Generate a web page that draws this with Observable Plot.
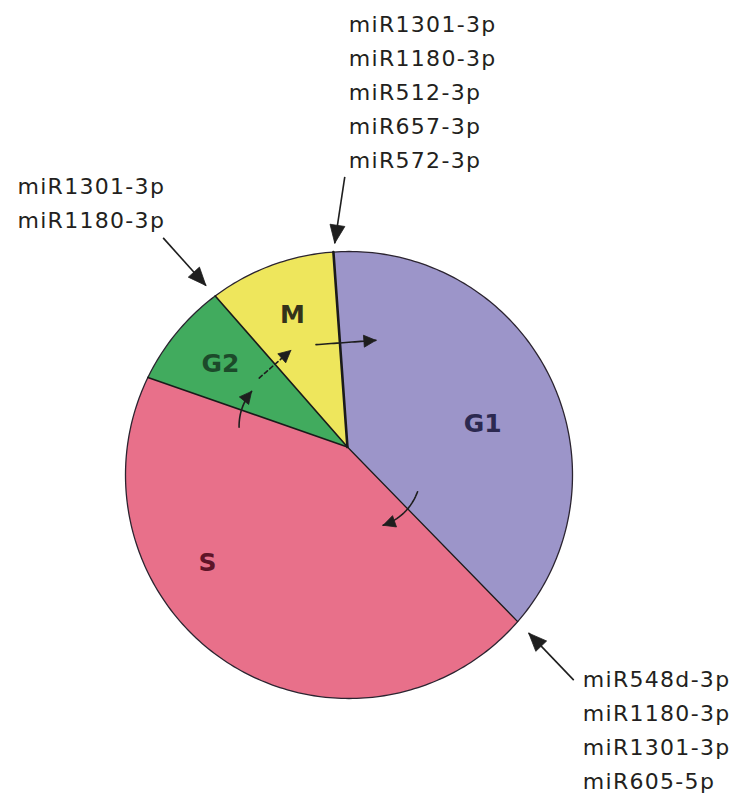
<!DOCTYPE html>
<html>
<head>
<meta charset="utf-8">
<script src="https://cdn.jsdelivr.net/npm/d3@7"></script>
<script src="https://cdn.jsdelivr.net/npm/@observablehq/plot@0.6"></script>
<style>
  html, body { margin: 0; padding: 0; background: #fff; }
  #chart svg { display: block; }
</style>
</head>
<body>
<div id="chart"></div>
<script>
// ---------------- data ----------------
const phases = ["G1", "S", "G2", "M"];
const phaseShares = [37.5, 45.8, 7.6, 9.1];          // % of the circle
const firstBoundary = 356;                           // deg clockwise from 12 o'clock: M ends, G1 begins
const phaseColors = ["#9c95c9", "#e8708a", "#41ab5e", "#eee65c"];
const labelInk = ["#2c2950", "#5e1428", "#1c4a2a", "#34321a"];

// miRNAs annotated at the transitions (boundary = start of the "to" phase)
const transitionTo = ["G1", "M", "S"];
const mirMtoG1 = ["miR1301-3p", "miR1180-3p", "miR512-3p", "miR657-3p", "miR572-3p"];
const mirG2toM = ["miR1301-3p", "miR1180-3p"];
const mirG1toS = ["miR548d-3p", "miR1180-3p", "miR1301-3p", "miR605-5p"];
const mirLists = [mirMtoG1, mirG2toM, mirG1toS];

// direction of the cycle (small arrows crossing the boundaries)
const cycleFrom = ["S", "G2", "M", "G1"];
const cycleTo   = ["G2", "M", "G1", "S"];

// ---------------- layout ----------------
const W = 733, H = 798;
const R = 223.5;                       // radius in px
const center = {x: 348.5, y: 474.5};   // px
const apex = [-0.007, 0.125];          // slices meet here (circle units, y up)
const font = "DejaVu Sans";
const ink = "#1e1e1e";
const letterSpacing = "1.3px";

const labelPos = {G1: [69.3, 0.64], S: [238.2, 0.745], G2: [310.8, 0.76], M: [340.5, 0.759]};
const noteLayout = [
  {heading: 188.6, gap: 9,  len: 67, dx: 4, dy: -9,   textAnchor: "start", lineAnchor: "bottom"},
  {heading: 138.1, gap: 14, len: 64, dx: 2, dy: -9.5, textAnchor: "end",   lineAnchor: "bottom"},
  {heading: 316.2, gap: 16, len: 65, dx: 9, dy: -17,  textAnchor: "start", lineAnchor: "top"}
];
const cycleLayout = [
  {t: 0.515, len: 38, shift: 2, bend: 20},
  {t: 0.548, len: 42, shift: 0, bend: 0, dash: "4,3"},
  {t: 0.534, len: 60, shift: 6, bend: 0},
  {t: 0.332, len: 48, shift: 5, bend: 25}
];
const fontSize = 22, lineGap = 34;

// ---------------- geometry helpers ----------------
const rad = d => d * Math.PI / 180;
const dir = a => [Math.sin(rad(a)), Math.cos(rad(a))];
const pt = (a, r = 1) => [r * Math.sin(rad(a)), r * Math.cos(rad(a))];
const add = (p, v, s = 1) => [p[0] + v[0] * s, p[1] + v[1] * s];
const u = v => v / R;   // px -> circle units

const starts = [];
{ let acc = firstBoundary; phaseShares.forEach(s => { starts.push(acc); acc += s * 3.6; }); }
const startOf = name => starts[phases.indexOf(name)];

// slices
const slicePts = [];
phases.forEach((p, i) => {
  const a0 = starts[i], a1 = a0 + phaseShares[i] * 3.6;
  slicePts.push({phase: p, x: apex[0], y: apex[1]});
  const n = Math.ceil((a1 - a0) / 0.5);
  for (let k = 0; k <= n; k++) {
    const [x, y] = pt(a0 + (a1 - a0) * k / n);
    slicePts.push({phase: p, x, y});
  }
  slicePts.push({phase: p, x: apex[0], y: apex[1]});
});

const circlePts = d3.range(0, 361).map(a => { const [x, y] = pt(a); return {x, y}; });

const borders = phases.map((p, i) => {
  const [x2, y2] = pt(starts[i]);
  return {x1: apex[0], y1: apex[1], x2, y2, w: p === "G1" ? 2.6 : (p === "S" ? 1.3 : 1.6)};
});

// arrow heads
const heads = [];
function addHead(id, tip, e, hl, hw) {
  const base = add(tip, e, -u(hl));
  const perp = [e[1], -e[0]];
  const l = add(base, perp, u(hw)), r = add(base, perp, -u(hw));
  [tip, l, r, tip].forEach(([x, y]) => heads.push({id, x, y}));
}

// outer annotation arrows + texts
const noteShafts = [];
const noteTexts = [];
transitionTo.forEach((ph, i) => {
  const L = noteLayout[i];
  const B = pt(startOf(ph));
  const e = dir(L.heading);
  const tip = add(B, e, -u(L.gap));
  const tail = add(tip, e, -u(L.len));
  noteShafts.push({x1: tail[0], y1: tail[1], x2: tip[0], y2: tip[1]});
  addHead("n" + i, tip, e, 18, 7.5);
  noteTexts.push({x: tail[0], y: tail[1], text: mirLists[i].join("\n"), L});
});

// inner cycle arrows
const cycleShafts = [];
cycleTo.forEach((to, i) => {
  const L = cycleLayout[i];
  const B = pt(startOf(to));
  const h = Math.atan2(B[0] - apex[0], B[1] - apex[1]) * 180 / Math.PI;
  const c = h + 90;
  const e = dir(c);
  const cross = [apex[0] + L.t * (B[0] - apex[0]), apex[1] + L.t * (B[1] - apex[1])];
  const mid = add(cross, e, u(L.shift));
  const tail = add(mid, e, -u(L.len / 2));
  const tip = add(mid, e, u(L.len / 2));
  const P = add(tail, dir(c - L.bend), u(L.len / 2) / Math.cos(rad(L.bend)));
  const pts = d3.range(0, 21).map(k => {
    const s = k / 20, a = (1 - s) * (1 - s), b = 2 * s * (1 - s), d = s * s;
    return {id: "c" + i, x: a * tail[0] + b * P[0] + d * tip[0], y: a * tail[1] + b * P[1] + d * tip[1]};
  });
  cycleShafts.push(pts);
  let et = [tip[0] - P[0], tip[1] - P[1]];
  const m = Math.hypot(et[0], et[1]); et = [et[0] / m, et[1] / m];
  addHead("c" + i, tip, et, 12, 6);
});

const labels = phases.map((p, i) => {
  const [a, r] = labelPos[p];
  const [x, y] = pt(a, r);
  return {x, y, text: p, ink: labelInk[i]};
});

// ---------------- plot ----------------
const marks = [
  Plot.line(slicePts, {x: "x", y: "y", z: "phase", fill: "phase", stroke: "none"}),
  Plot.line(circlePts, {x: "x", y: "y", stroke: "#2b2430", strokeWidth: 1.3}),
  Plot.link(borders, {x1: "x1", y1: "y1", x2: "x2", y2: "y2", stroke: "#1a1a1a", strokeWidth: "w", strokeLinecap: "round"}),
  ...cycleShafts.map((pts, i) => Plot.line(pts, {x: "x", y: "y", stroke: ink, strokeWidth: 1.6,
      strokeDasharray: cycleLayout[i].dash || null})),
  Plot.link(noteShafts, {x1: "x1", y1: "y1", x2: "x2", y2: "y2", stroke: ink, strokeWidth: 1.6}),
  Plot.line(heads, {x: "x", y: "y", z: "id", fill: ink, stroke: ink, strokeWidth: 0.8, strokeLinejoin: "miter"}),
  Plot.text(labels, {x: "x", y: "y", text: "text", fill: "ink", fontFamily: font, fontWeight: "bold",
      fontSize: 25, textAnchor: "middle", lineAnchor: "middle"}),
  ...noteTexts.map(d => Plot.text([d], {x: "x", y: "y", text: "text",
      fontFamily: font, fontSize, lineHeight: lineGap / fontSize, fill: "#231f20",
      textAnchor: d.L.textAnchor, lineAnchor: d.L.lineAnchor, dx: d.L.dx, dy: d.L.dy}))
];

const chart = Plot.plot({
  width: W, height: H, margin: 0,
  x: {domain: [-center.x / R, (W - center.x) / R], axis: null},
  y: {domain: [-(H - center.y) / R, center.y / R], axis: null},
  color: {domain: phases, range: phaseColors},
  style: {background: "white", overflow: "visible"},
  marks
});
d3.select(chart).selectAll("text")
  .filter(function () { return this.textContent.startsWith("miR"); })
  .style("letter-spacing", letterSpacing);
document.getElementById("chart").append(chart);
</script>
</body>
</html>
